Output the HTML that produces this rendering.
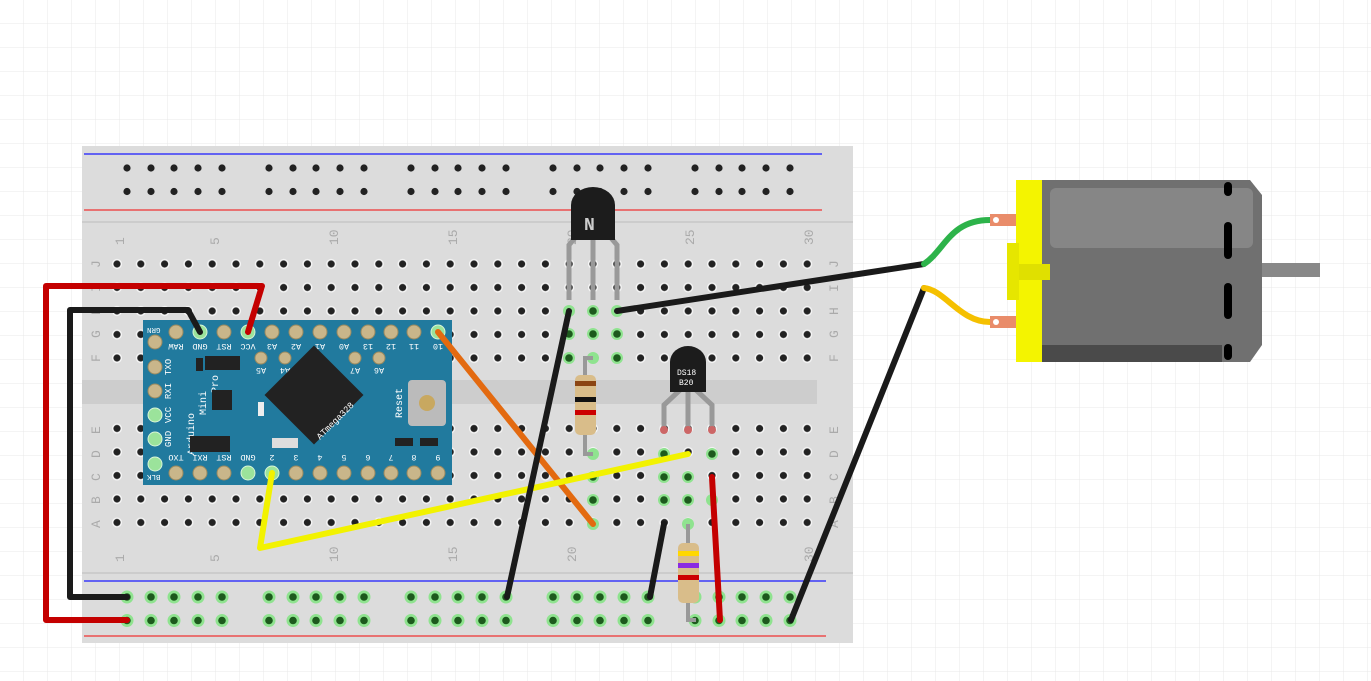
<!DOCTYPE html>
<html><head><meta charset="utf-8"><style>
html,body{margin:0;padding:0;background:#fff;}
svg{display:block}
text{font-family:"Liberation Mono",monospace;}
</style></head><body>
<svg width="1371" height="681" viewBox="0 0 1371 681" xmlns="http://www.w3.org/2000/svg">
<defs>
<pattern id="grid" width="24" height="24" patternUnits="userSpaceOnUse"><path d="M24 0V24H0" fill="none" stroke="#e8e8e8" stroke-width="1"/></pattern>
<pattern id="holes" x="105.1" y="252.25" width="23.8" height="23.5" patternUnits="userSpaceOnUse"><circle cx="11.9" cy="11.75" r="5" fill="#fff" opacity=".8"/><circle cx="11.9" cy="11.75" r="3.6" fill="#222"/></pattern>
<pattern id="rail" x="115" y="156" width="142" height="23.5" patternUnits="userSpaceOnUse">
<g fill="#222"><circle cx="12" cy="12" r="3.6"/><circle cx="36" cy="12" r="3.6"/><circle cx="59" cy="12" r="3.6"/><circle cx="83" cy="12" r="3.6"/><circle cx="107" cy="12" r="3.6"/></g></pattern>
<pattern id="railg" x="115" y="585" width="142" height="23.5" patternUnits="userSpaceOnUse">
<g fill="#8fe38f"><circle cx="12" cy="12" r="6.5"/><circle cx="36" cy="12" r="6.5"/><circle cx="59" cy="12" r="6.5"/><circle cx="83" cy="12" r="6.5"/><circle cx="107" cy="12" r="6.5"/></g>
<g fill="#1d5a1d"><circle cx="12" cy="12" r="3.8"/><circle cx="36" cy="12" r="3.8"/><circle cx="59" cy="12" r="3.8"/><circle cx="83" cy="12" r="3.8"/><circle cx="107" cy="12" r="3.8"/></g></pattern>
</defs>
<rect width="1371" height="681" fill="url(#grid)"/>
<!-- breadboard -->
<rect x="82" y="146" width="771" height="497" fill="#dcdcdc"/>
<line x1="82" y1="222" x2="853" y2="222" stroke="#bbb"/>
<line x1="82" y1="573" x2="853" y2="573" stroke="#bbb"/>
<rect x="82" y="380" width="735" height="24" fill="#cdcdcd"/>
<line x1="84" y1="154" x2="822" y2="154" stroke="#1a1aff" stroke-width="1.2"/>
<line x1="84" y1="210" x2="822" y2="210" stroke="#e33" stroke-width="1.2"/>
<line x1="84" y1="581" x2="826" y2="581" stroke="#1a1aff" stroke-width="1.2"/>
<line x1="84" y1="636" x2="826" y2="636" stroke="#e33" stroke-width="1.2"/>
<rect x="105" y="156" width="710" height="47" fill="url(#rail)"/>
<rect x="105" y="585" width="710" height="47" fill="url(#railg)"/>
<rect x="105" y="252" width="714" height="118" fill="url(#holes)"/>
<rect x="105" y="418" width="714" height="118" fill="url(#holes)"/>
<g fill="#aaa" font-size="13" font-family="Liberation Sans,sans-serif">
<text transform="translate(124,245) rotate(-90)">1</text>
<text transform="translate(219,245) rotate(-90)">5</text>
<text transform="translate(338,245) rotate(-90)">10</text>
<text transform="translate(457,245) rotate(-90)">15</text>
<text transform="translate(576,245) rotate(-90)">20</text>
<text transform="translate(694,245) rotate(-90)">25</text>
<text transform="translate(813,245) rotate(-90)">30</text>
<text transform="translate(124,562) rotate(-90)">1</text>
<text transform="translate(219,562) rotate(-90)">5</text>
<text transform="translate(338,562) rotate(-90)">10</text>
<text transform="translate(457,562) rotate(-90)">15</text>
<text transform="translate(576,562) rotate(-90)">20</text>
<text transform="translate(813,562) rotate(-90)">30</text>
<g transform="translate(100,0)"><text transform="translate(0,268) rotate(-90)">J</text><text transform="translate(0,292) rotate(-90)">I</text><text transform="translate(0,315) rotate(-90)">H</text><text transform="translate(0,338) rotate(-90)">G</text><text transform="translate(0,362) rotate(-90)">F</text><text transform="translate(0,434) rotate(-90)">E</text><text transform="translate(0,458) rotate(-90)">D</text><text transform="translate(0,481) rotate(-90)">C</text><text transform="translate(0,504) rotate(-90)">B</text><text transform="translate(0,528) rotate(-90)">A</text></g>
<g transform="translate(838,0)"><text transform="translate(0,268) rotate(-90)">J</text><text transform="translate(0,292) rotate(-90)">I</text><text transform="translate(0,315) rotate(-90)">H</text><text transform="translate(0,338) rotate(-90)">G</text><text transform="translate(0,362) rotate(-90)">F</text><text transform="translate(0,434) rotate(-90)">E</text><text transform="translate(0,458) rotate(-90)">D</text><text transform="translate(0,481) rotate(-90)">C</text><text transform="translate(0,504) rotate(-90)">B</text><text transform="translate(0,528) rotate(-90)">A</text></g>
</g>
<!-- green highlighted holes -->
<g fill="#8fe38f"><circle cx="569" cy="311" r="6"/><circle cx="593" cy="311" r="6"/><circle cx="617" cy="311" r="6"/><circle cx="569" cy="334" r="6"/><circle cx="593" cy="334" r="6"/><circle cx="617" cy="334" r="6"/><circle cx="569" cy="358" r="6"/><circle cx="593" cy="358" r="6"/><circle cx="617" cy="358" r="6"/>
<circle cx="593" cy="454" r="6"/><circle cx="593" cy="477" r="6"/><circle cx="593" cy="500" r="6"/><circle cx="593" cy="524" r="6"/>
<circle cx="664" cy="454" r="6"/><circle cx="664" cy="477" r="6"/><circle cx="664" cy="500" r="6"/><circle cx="688" cy="477" r="6"/><circle cx="688" cy="500" r="6"/><circle cx="688" cy="524" r="6"/><circle cx="712" cy="454" r="6"/><circle cx="712" cy="500" r="6"/></g>
<g fill="#1d5a1d"><circle cx="569" cy="334" r="3.8"/><circle cx="593" cy="334" r="3.8"/><circle cx="617" cy="334" r="3.8"/><circle cx="569" cy="358" r="3.8"/><circle cx="617" cy="358" r="3.8"/><circle cx="593" cy="311" r="3.8"/><circle cx="593" cy="500" r="3.8"/><circle cx="593" cy="477" r="3.8"/><circle cx="664" cy="454" r="3.8"/><circle cx="664" cy="477" r="3.8"/><circle cx="664" cy="500" r="3.8"/><circle cx="688" cy="477" r="3.8"/><circle cx="688" cy="500" r="3.8"/><circle cx="712" cy="454" r="3.8"/></g>
<!-- arduino -->
<rect x="143" y="320" width="309" height="165" fill="#217a9e"/>
<g fill="#c9b68a" stroke="#9a8a60" stroke-width="1">
<circle cx="176" cy="332" r="7"/><circle cx="224" cy="332" r="7"/><circle cx="272" cy="332" r="7"/><circle cx="296" cy="332" r="7"/><circle cx="320" cy="332" r="7"/><circle cx="344" cy="332" r="7"/><circle cx="368" cy="332" r="7"/><circle cx="391" cy="332" r="7"/><circle cx="414" cy="332" r="7"/>
<circle cx="176" cy="473" r="7"/><circle cx="200" cy="473" r="7"/><circle cx="224" cy="473" r="7"/><circle cx="296" cy="473" r="7"/><circle cx="320" cy="473" r="7"/><circle cx="344" cy="473" r="7"/><circle cx="368" cy="473" r="7"/><circle cx="391" cy="473" r="7"/><circle cx="414" cy="473" r="7"/><circle cx="438" cy="473" r="7"/>
<circle cx="155" cy="342" r="7"/><circle cx="155" cy="367" r="7"/><circle cx="155" cy="391" r="7"/><circle cx="261" cy="358" r="6"/><circle cx="285" cy="358" r="6"/><circle cx="355" cy="358" r="6"/><circle cx="379" cy="358" r="6"/></g>
<g fill="#9be39b" stroke="#d8f5d8"><circle cx="155" cy="415" r="7"/><circle cx="155" cy="439" r="7"/><circle cx="155" cy="464" r="7"/><circle cx="200" cy="332" r="7"/><circle cx="248" cy="332" r="7"/><circle cx="438" cy="332" r="7"/><circle cx="248" cy="473" r="7"/><circle cx="272" cy="473" r="7"/></g>
<g fill="#fff" font-size="8.5" text-anchor="middle">
<text transform="translate(176,344) rotate(180)">RAW</text><text transform="translate(200,344) rotate(180)">GND</text><text transform="translate(224,344) rotate(180)">RST</text><text transform="translate(248,344) rotate(180)">VCC</text><text transform="translate(272,344) rotate(180)">A3</text><text transform="translate(296,344) rotate(180)">A2</text><text transform="translate(320,344) rotate(180)">A1</text><text transform="translate(344,344) rotate(180)">A0</text><text transform="translate(368,344) rotate(180)">13</text><text transform="translate(391,344) rotate(180)">12</text><text transform="translate(414,344) rotate(180)">11</text><text transform="translate(438,344) rotate(180)">10</text>
<text transform="translate(261,368) rotate(180)">A5</text><text transform="translate(285,368) rotate(180)">A4</text><text transform="translate(355,368) rotate(180)">A7</text><text transform="translate(379,368) rotate(180)">A6</text>
<text transform="translate(176,455) rotate(180)">TXO</text><text transform="translate(200,455) rotate(180)">RXI</text><text transform="translate(224,455) rotate(180)">RST</text><text transform="translate(248,455) rotate(180)">GND</text><text transform="translate(272,455) rotate(180)">2</text><text transform="translate(296,455) rotate(180)">3</text><text transform="translate(320,455) rotate(180)">4</text><text transform="translate(344,455) rotate(180)">5</text><text transform="translate(368,455) rotate(180)">6</text><text transform="translate(391,455) rotate(180)">7</text><text transform="translate(414,455) rotate(180)">8</text><text transform="translate(438,455) rotate(180)">9</text>
<text transform="translate(147,328) rotate(180)" font-size="7.5" text-anchor="end">GRN</text>
<text transform="translate(147,475) rotate(180)" font-size="7.5" text-anchor="end">BLK</text>
</g>
<g fill="#fff" font-size="9" text-anchor="middle">
<text transform="translate(171,439) rotate(-90)">GND</text><text transform="translate(171,415) rotate(-90)">VCC</text><text transform="translate(171,391) rotate(-90)">RXI</text><text transform="translate(171,367) rotate(-90)">TXO</text>
</g>
<g fill="#fff" font-size="10"><text transform="translate(194,455) rotate(-90)">Arduino</text><text transform="translate(206,415) rotate(-90)">Mini</text><text transform="translate(218,393) rotate(-90)">Pro</text><text transform="translate(402,418) rotate(-90)">Reset</text></g>
<rect x="279" y="360" width="70" height="70" fill="#222" transform="rotate(45 314 395)"/>
<text fill="#fff" font-size="9" transform="translate(320,440) rotate(-45)">ATmega328</text>
<rect x="408" y="380" width="38" height="46" rx="4" fill="#bbb"/><circle cx="427" cy="403" r="8" fill="#c8a860"/>
<rect x="205" y="356" width="35" height="14" fill="#222"/><rect x="190" y="436" width="40" height="16" fill="#222"/>
<rect x="212" y="390" width="20" height="20" fill="#222"/><rect x="272" y="438" width="26" height="10" fill="#ddd"/>
<rect x="196" y="358" width="7" height="13" fill="#222"/><rect x="258" y="402" width="6" height="14" fill="#eee"/>
<rect x="395" y="438" width="18" height="8" fill="#222"/><rect x="420" y="438" width="18" height="8" fill="#222"/>
<!-- transistor top -->
<g stroke="#999" stroke-width="5" fill="none"><path d="M585 226 L569 245 V300"/><path d="M593 226 V300"/><path d="M601 226 L617 245 V300"/></g>
<path d="M571 240 V205 A22 18 0 0 1 615 205 V240 Z" fill="#1c1c1c"/>
<text x="584" y="230" fill="#ccc" font-size="18" font-weight="bold" font-family="Liberation Sans">N</text>
<!-- DS18B20 -->
<g stroke="#999" stroke-width="5" fill="none"><path d="M680 390 L664 405 V430"/><path d="M688 390 V430"/><path d="M696 390 L712 405 V430"/></g>
<path d="M670 392 V362 A18 16 0 0 1 706 362 V392 Z" fill="#1c1c1c"/>
<text x="677" y="375" fill="#fff" font-size="8">DS18</text><text x="679" y="385" fill="#fff" font-size="8">B20</text>
<g fill="#c66"><circle cx="664" cy="430" r="4"/><circle cx="688" cy="430" r="4"/><circle cx="712" cy="430" r="4"/></g>
<!-- resistors -->
<path d="M593 358 H585 V454 H593" stroke="#999" stroke-width="4" fill="none"/>
<rect x="575" y="375" width="21" height="60" rx="5" fill="#d9bd8a"/><rect x="575" y="381" width="21" height="5" fill="#8b4513"/><rect x="575" y="397" width="21" height="5" fill="#111"/><rect x="575" y="410" width="21" height="5" fill="#c00"/>
<path d="M688 524 V620 H696" stroke="#999" stroke-width="4" fill="none"/>
<rect x="678" y="543" width="21" height="60" rx="5" fill="#d9bd8a"/><rect x="678" y="551" width="21" height="5" fill="#ffd800"/><rect x="678" y="563" width="21" height="5" fill="#8b2be2"/><rect x="678" y="575" width="21" height="5" fill="#c00"/>
<!-- wires -->
<g fill="none" stroke-linecap="round" stroke-linejoin="round" stroke-width="6">
<path d="M127 620 H46 V286 H262 L248 332" stroke="#c40000"/>
<path d="M127 597 H70 V310 H188 L200 332" stroke="#1a1a1a"/>
<path d="M438 332 L593 524" stroke="#e36a10"/>
<path d="M272 473 L260 548 L688 454" stroke="#f2f200"/>
<path d="M569 311 L507 597" stroke="#1a1a1a"/>
<path d="M617 311 L924 264" stroke="#1a1a1a"/>
<path d="M924 288 L791 620" stroke="#1a1a1a"/>
<path d="M664 524 L650 597" stroke="#1a1a1a"/>
<path d="M712 477 L720 620" stroke="#c40000"/>
<path d="M924 264 C945 250 950 220 990 220" stroke="#2db34a"/>
<path d="M924 288 C945 290 960 322 990 322" stroke="#f5c000"/>
</g>
<!-- motor -->
<rect x="990" y="214" width="26" height="12" fill="#e98c6a"/><circle cx="996" cy="220" r="3" fill="#fff"/>
<rect x="990" y="316" width="26" height="12" fill="#e98c6a"/><circle cx="996" cy="322" r="3" fill="#fff"/>
<rect x="1262" y="263" width="58" height="14" fill="#888"/>
<path d="M1042 180 H1250 L1262 195 V345 L1250 362 H1042 Z" fill="#707070"/>
<rect x="1050" y="188" width="203" height="60" rx="6" fill="#868686"/>
<rect x="1042" y="345" width="180" height="17" fill="#4a4a4a"/>
<g stroke="#000" stroke-width="8" stroke-linecap="round"><line x1="1228" y1="186" x2="1228" y2="192"/><line x1="1228" y1="226" x2="1228" y2="255"/><line x1="1228" y1="287" x2="1228" y2="315"/><line x1="1228" y1="348" x2="1228" y2="356"/></g>
<rect x="1016" y="180" width="26" height="182" fill="#f4f400"/>
<rect x="1007" y="243" width="12" height="57" fill="#e6e600"/><rect x="1019" y="264" width="31" height="16" fill="#e0e000"/>
</svg>
</body></html>
